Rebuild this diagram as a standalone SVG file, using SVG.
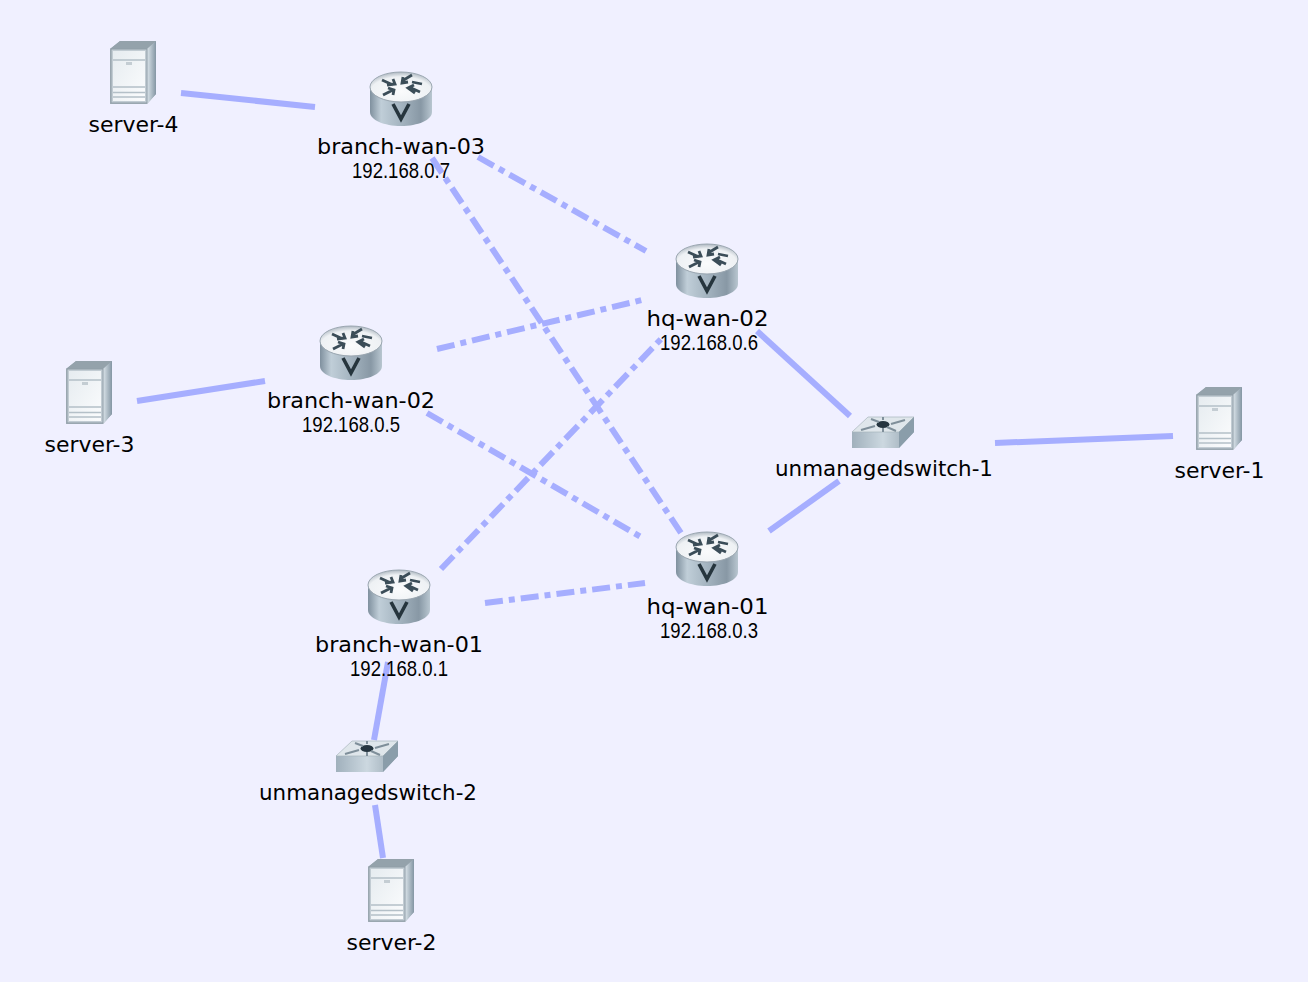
<svg xmlns="http://www.w3.org/2000/svg" width="1308" height="982" viewBox="0 0 1308 982">
<style>
.l{stroke:#a6aeff;stroke-width:6;fill:none}
.d{stroke-dasharray:18 6 6 6}
text{text-anchor:middle;fill:#000}
.n{font:22px "DejaVu Sans",sans-serif}
.ip{font:22px "Liberation Sans",Arial,sans-serif}
</style>
<defs>
<filter id="soft" x="-5%" y="-5%" width="110%" height="110%"><feGaussianBlur stdDeviation=".55"/></filter>
<linearGradient id="rb" x1="0" x2="1" y1="0" y2="0"><stop offset="0" stop-color="#7f909e"/><stop offset=".18" stop-color="#c0ced8"/><stop offset=".5" stop-color="#a4b4c0"/><stop offset=".82" stop-color="#8898a5"/><stop offset="1" stop-color="#b8c6d0"/></linearGradient>
<radialGradient id="rt" cx=".5" cy=".65" r=".65"><stop offset="0" stop-color="#fafbfc"/><stop offset=".75" stop-color="#eef1f4"/><stop offset="1" stop-color="#aeb8c1"/></radialGradient>
<linearGradient id="sf" x1="0" x2="1" y1="0" y2="1"><stop offset="0" stop-color="#e6ecf0"/><stop offset="1" stop-color="#fbfcfd"/></linearGradient>
<linearGradient id="ss" x1="0" x2="1"><stop offset="0" stop-color="#dbe4ea"/><stop offset="1" stop-color="#8496a4"/></linearGradient>
<linearGradient id="wf" x1="0" x2="1"><stop offset="0" stop-color="#a0b0bc"/><stop offset=".5" stop-color="#ccd8e0"/><stop offset="1" stop-color="#94a4b0"/></linearGradient>
<symbol id="router" width="62" height="54" viewBox="0 0 62 54" overflow="visible">
<g filter="url(#soft)">
<path d="M0 16V40C0 48 14 54 31 54S62 48 62 40V16Z" fill="url(#rb)"/>
<ellipse cx="31" cy="15" rx="31" ry="15" fill="url(#rt)" stroke="#9aa6b0" stroke-width="1"/>
<path d="M12 8l11 5M17 13l8-1 -2-5M42 3l-10 6M33 5l-1 6 6-1M13 23l10-5M18 16l6 2 -1 5M50 20l-11-5M45 21l-7-5 6-3M52 12l-10-2" stroke="#3b4d59" stroke-width="2.800" fill="none"/>
<path d="M23 32l8 15 8-15" stroke="#26343e" stroke-width="3.600" fill="none"/>
</g>
</symbol>
<symbol id="server" width="46" height="64" viewBox="0 0 46 64" overflow="visible">
<g filter="url(#soft)">
<path d="M0 9L10 1H46V54L37 64H0Z" fill="#a4b0b9"/>
<path d="M0 9L10 1H46L37 9Z" fill="#94a2ab"/>
<path d="M37 9L46 1V54L37 64Z" fill="url(#ss)"/>
<rect x="1" y="9" width="36" height="54" fill="#c2ccd3" stroke="#8f9da7"/>
<rect x="3" y="11" width="32" height="50" fill="url(#sf)"/>
<path d="M3 20H35M3 47H35M3 52.500H35M3 57H35" stroke="#b4c0c8" stroke-width="1.600"/>
<rect x="16" y="22" width="6" height="3" fill="#c4cdd3"/>
</g>
</symbol>
<symbol id="switch" width="62" height="32" viewBox="0 0 62 32" overflow="visible">
<g filter="url(#soft)">
<path d="M0 16V32H47L62 16V1Z" fill="url(#wf)"/>
<path d="M0 16L16 1H62L47 16Z" fill="#dfe6eb" stroke="#a8b4bc" stroke-width=".7"/>
<path d="M47 16L62 1V16L47 32Z" fill="#8a9daa"/>
<ellipse cx="31" cy="8.500" rx="6.500" ry="3.500" fill="#26363f"/>
<path d="M9 14L23 10M39 8L53 4M19 3L27 6M35 11L44 15M31 4V1M31 12V16" stroke="#7f8f9a" stroke-width="2"/>
</g>
</symbol>
</defs>
<rect width="1308" height="982" fill="#f0f0ff"/>
<g id="connectors">
<line class="l" x1="181" y1="93" x2="315" y2="107"/>
<line class="l d" x1="478" y1="157" x2="646" y2="251"/>
<line class="l d" x1="432" y1="158" x2="681" y2="533"/>
<line class="l d" x1="437" y1="349" x2="642" y2="300"/>
<line class="l d" x1="427" y1="413" x2="641" y2="537"/>
<line class="l d" x1="441" y1="569" x2="661" y2="339"/>
<line class="l d" x1="485" y1="603" x2="645" y2="583"/>
<line class="l" x1="757" y1="331" x2="850" y2="416"/>
<line class="l" x1="769" y1="531" x2="839" y2="481"/>
<line class="l" x1="995" y1="443" x2="1173" y2="436"/>
<line class="l" x1="137" y1="401" x2="265" y2="381"/>
<line class="l" x1="388" y1="662" x2="374" y2="740"/>
<line class="l" x1="375" y1="805" x2="383" y2="858"/>
</g>
<g id="server-4"><use href="#server" x="110" y="40"/><text class="n" x="133.500" y="132" textLength="90" lengthAdjust="spacingAndGlyphs">server-4</text></g>
<g id="branch-wan-03"><use href="#router" x="370" y="72"/><text class="n" x="401" y="154" textLength="168" lengthAdjust="spacingAndGlyphs">branch-wan-03</text><text class="ip" x="401" y="178" textLength="98" lengthAdjust="spacingAndGlyphs">192.168.0.7</text></g>
<g id="hq-wan-02"><use href="#router" x="676" y="244"/><text class="n" x="707.500" y="326" textLength="122" lengthAdjust="spacingAndGlyphs">hq-wan-02</text><text class="ip" x="709" y="350" textLength="98" lengthAdjust="spacingAndGlyphs">192.168.0.6</text></g>
<g id="branch-wan-02"><use href="#router" x="320" y="326"/><text class="n" x="351" y="408" textLength="168" lengthAdjust="spacingAndGlyphs">branch-wan-02</text><text class="ip" x="351" y="432" textLength="98" lengthAdjust="spacingAndGlyphs">192.168.0.5</text></g>
<g id="server-3"><use href="#server" x="66" y="360"/><text class="n" x="89.500" y="452" textLength="90" lengthAdjust="spacingAndGlyphs">server-3</text></g>
<g id="unmanagedswitch-1"><use href="#switch" x="852" y="416"/><text class="n" x="884" y="476" textLength="218" lengthAdjust="spacingAndGlyphs">unmanagedswitch-1</text></g>
<g id="server-1"><use href="#server" x="1196" y="386"/><text class="n" x="1219.500" y="478" textLength="90" lengthAdjust="spacingAndGlyphs">server-1</text></g>
<g id="hq-wan-01"><use href="#router" x="676" y="532"/><text class="n" x="707.500" y="614" textLength="122" lengthAdjust="spacingAndGlyphs">hq-wan-01</text><text class="ip" x="709" y="638" textLength="98" lengthAdjust="spacingAndGlyphs">192.168.0.3</text></g>
<g id="branch-wan-01"><use href="#router" x="368" y="570"/><text class="n" x="399" y="652" textLength="168" lengthAdjust="spacingAndGlyphs">branch-wan-01</text><text class="ip" x="399" y="676" textLength="98" lengthAdjust="spacingAndGlyphs">192.168.0.1</text></g>
<g id="unmanagedswitch-2"><use href="#switch" x="336" y="740"/><text class="n" x="368" y="800" textLength="218" lengthAdjust="spacingAndGlyphs">unmanagedswitch-2</text></g>
<g id="server-2"><use href="#server" x="368" y="858"/><text class="n" x="391.500" y="950" textLength="90" lengthAdjust="spacingAndGlyphs">server-2</text></g>
</svg>
